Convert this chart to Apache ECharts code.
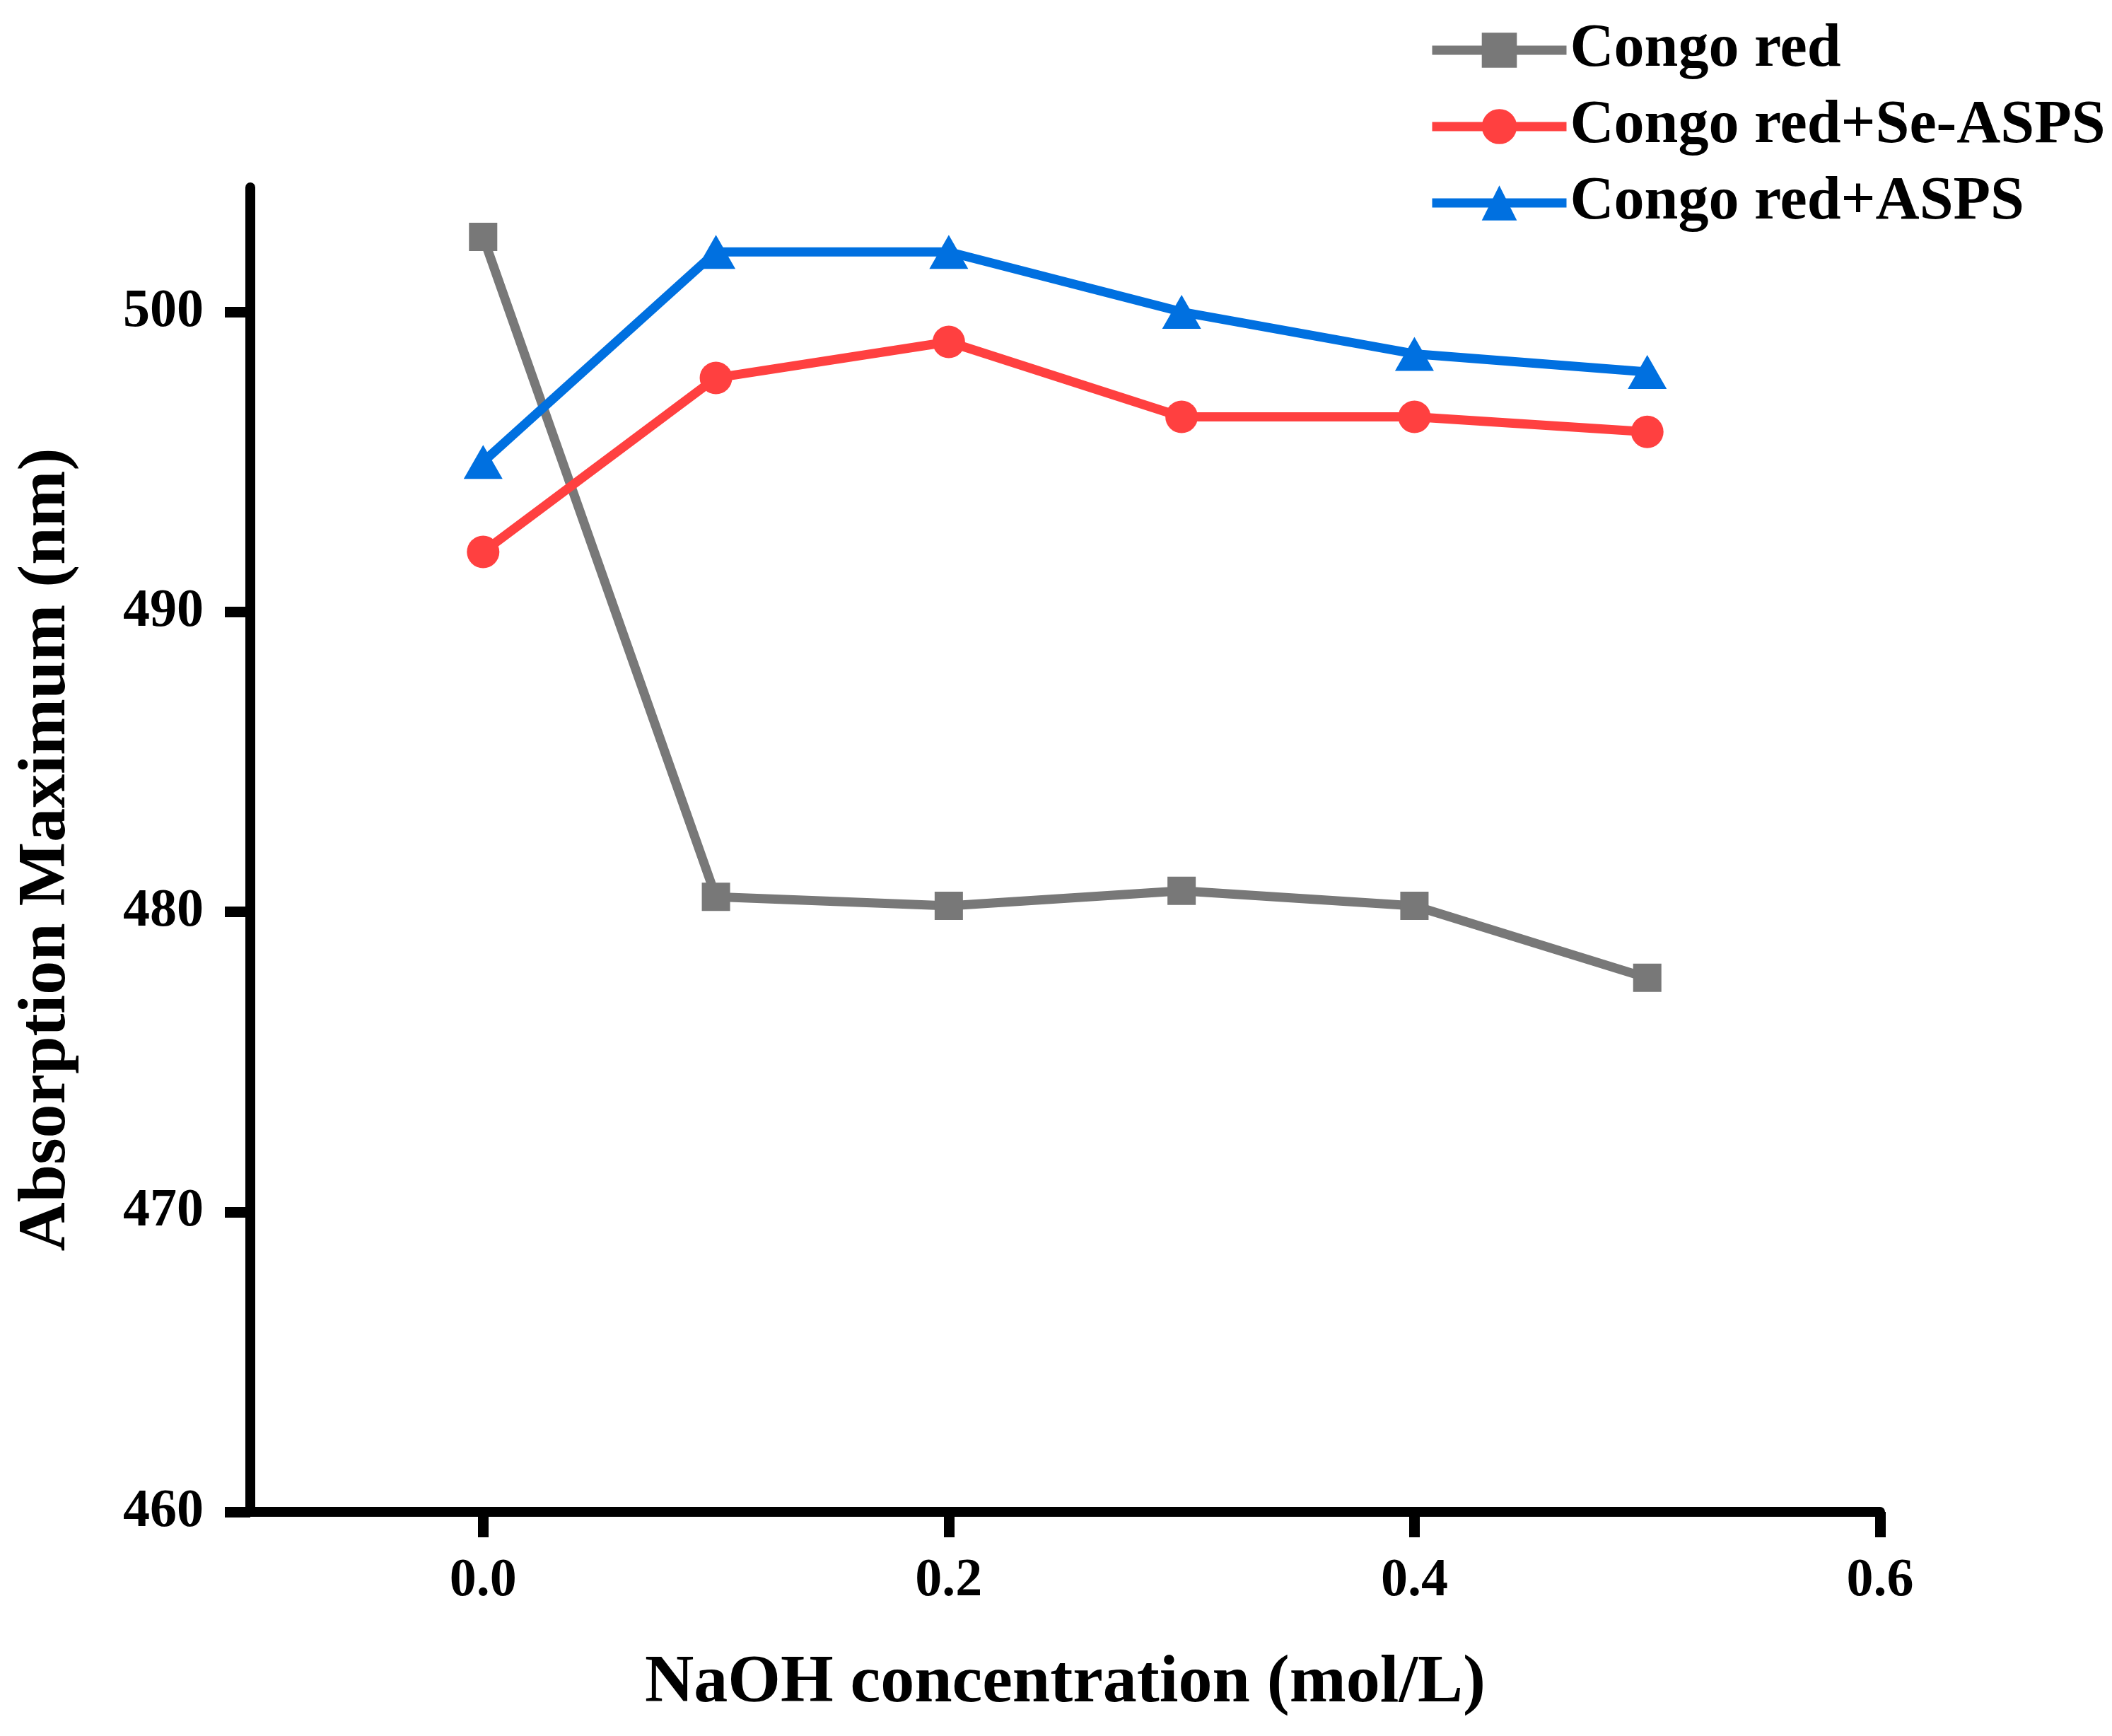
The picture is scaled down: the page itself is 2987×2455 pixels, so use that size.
<!DOCTYPE html>
<html>
<head>
<meta charset="utf-8">
<title>Absorption Maximum vs NaOH</title>
<script src="https://cdn.jsdelivr.net/npm/echarts@6.0.0/dist/echarts.min.js"></script>
<style>
    html, body { margin: 0; padding: 0; background: #fff; }
    #chart { width: 2987px; height: 2455px; }
</style>
</head>
<body>
<div id="chart"></div>
<script>
// data
var naoh = [0.0, 0.1, 0.2, 0.3, 0.4, 0.5];
var congoRed = [502.5, 480.5, 480.2, 480.7, 480.2, 477.8];
var congoRedSeAsps = [492.0, 497.8, 499.0, 496.5, 496.5, 496.0];
var congoRedAsps = [495.0, 502.0, 502.0, 500.0, 498.6, 498.0];
var xTicks = [0.0, 0.2, 0.4, 0.6];
var yTicks = [460, 470, 480, 490, 500];

var FONT = 'Liberation Serif';

function pairs(ys) {
    return naoh.map(function (x, i) { return [x, ys[i]]; });
}

var chart = echarts.init(document.getElementById('chart'));

var axisCommon = {
    axisLine: { show: true, onZero: false, lineStyle: { color: '#000', width: 14 } },
    axisTick: { show: true, inside: false, length: 36, lineStyle: { color: '#000', width: 15 } },
    splitLine: { show: false },
    nameLocation: 'middle',
    nameTextStyle: { fontFamily: FONT, fontWeight: 'bold', fontSize: 96, color: '#000' }
};

var option = {
    animation: false,
    backgroundColor: '#fff',
    grid: { left: 354, top: 265, width: 2305, height: 1873, containLabel: false },
    legend: {
        orient: 'vertical',
        left: 2014,
        top: 23,
        itemWidth: 190,
        itemHeight: 62,
        itemGap: 22,
        lineStyle: { width: 13 },
        textStyle: {
            fontFamily: FONT, fontWeight: 'bold', fontSize: 86, lineHeight: 86,
            color: '#000', padding: [0, 0, 0, 0]
        },
        data: ['Congo red', 'Congo red+Se-ASPS', 'Congo red+ASPS']
    },
    xAxis: echarts.util.merge({
        type: 'value',
        min: -0.1,
        max: 0.6,
        name: 'NaOH concentration (mol/L)',
        nameGap: 195,
        axisTick: { customValues: xTicks },
        axisLabel: {
            customValues: xTicks,
            margin: 60,
            fontFamily: FONT, fontWeight: 'bold', fontSize: 76, color: '#000',
            formatter: function (v) { return v.toFixed(1); }
        }
    }, axisCommon, false),
    yAxis: echarts.util.merge({
        type: 'value',
        min: 460,
        max: 504.15,
        name: 'Absorption Maximum (nm)',
        nameGap: 240,
        axisTick: { customValues: yTicks },
        axisLabel: {
            customValues: yTicks,
            margin: 66,
            fontFamily: FONT, fontWeight: 'bold', fontSize: 76, color: '#000',
            formatter: function (v) { return String(Math.round(v)); }
        }
    }, axisCommon, false),
    series: [
        {
            name: 'Congo red',
            type: 'line',
            data: pairs(congoRed),
            symbol: 'rect',
            symbolSize: 40,
            color: '#787878',
            lineStyle: { width: 13, color: '#787878' },
            itemStyle: { color: '#787878' },
            z: 2
        },
        {
            name: 'Congo red+Se-ASPS',
            type: 'line',
            data: pairs(congoRedSeAsps),
            symbol: 'circle',
            symbolSize: 46,
            color: '#ff4040',
            lineStyle: { width: 13, color: '#ff4040' },
            itemStyle: { color: '#ff4040' },
            z: 3
        },
        {
            name: 'Congo red+ASPS',
            type: 'line',
            data: pairs(congoRedAsps),
            symbol: 'triangle',
            symbolSize: [55, 48],
            color: '#0070e0',
            lineStyle: { width: 13, color: '#0070e0' },
            itemStyle: { color: '#0070e0' },
            z: 4
        }
    ]
};

chart.setOption(option);
</script>
</body>
</html>
